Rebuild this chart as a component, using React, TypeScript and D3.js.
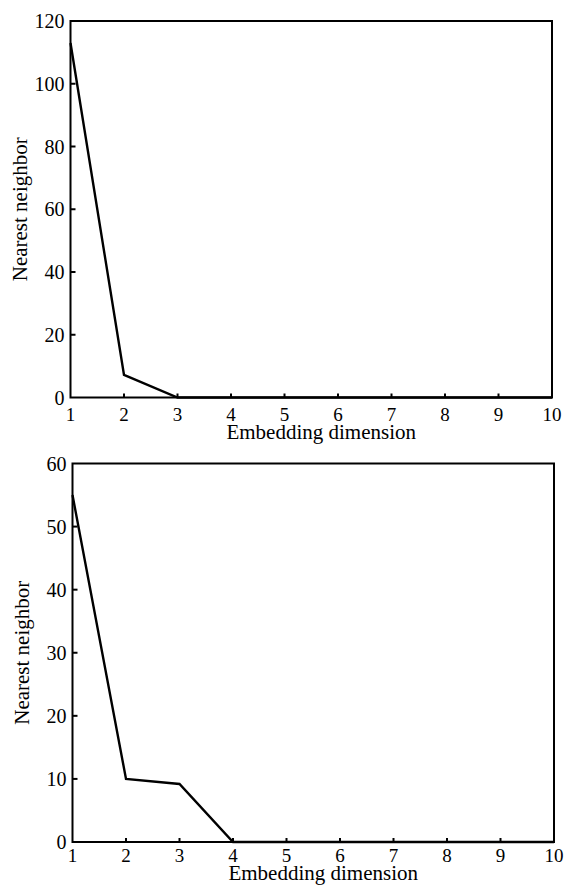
import React, { useEffect, useRef } from "react";
import * as d3 from "d3";

// embedding dimension on the x axis
const dims = [1, 2, 3, 4, 5, 6, 7, 8, 9, 10];
// false nearest neighbour counts, upper panel
const topValues = [113, 7.2, 0, 0, 0, 0, 0, 0, 0, 0];
// lower panel
const bottomValues = [55, 10, 9.2, 0, 0, 0, 0, 0, 0, 0];
const topYTicks = [0, 20, 40, 60, 80, 100, 120];
const bottomYTicks = [0, 10, 20, 30, 40, 50, 60];

const xLabel = "Embedding dimension";
const yLabel = "Nearest neighbor";

function drawPanel(svg, values, yMax, yTicks, box) {
  const g = svg.append("g");
  const x = d3.scaleLinear().domain([1, 10]).range([box.left, box.right]);
  const y = d3.scaleLinear().domain([0, yMax]).range([box.bottom, box.top]);
  const font = "'Liberation Serif', 'Times New Roman', serif";

  // frame
  g.append("rect")
    .attr("x", box.left)
    .attr("y", box.top)
    .attr("width", box.right - box.left)
    .attr("height", box.bottom - box.top)
    .attr("fill", "none")
    .attr("stroke", "#000")
    .attr("stroke-width", 2);

  // inward ticks on bottom axis
  g.selectAll(".xt")
    .data(dims.slice(1, -1))
    .join("line")
    .attr("x1", (d) => x(d))
    .attr("x2", (d) => x(d))
    .attr("y1", box.bottom)
    .attr("y2", box.bottom - 4)
    .attr("stroke", "#000")
    .attr("stroke-width", 2);

  g.selectAll(".xl")
    .data(dims)
    .join("text")
    .attr("x", (d) => x(d))
    .attr("y", box.bottom + box.tickGap)
    .attr("text-anchor", "middle")
    .style("font-family", font)
    .style("font-size", "19px")
    .text((d) => d);

  // inward ticks on left axis
  g.selectAll(".yt")
    .data(yTicks.slice(1, -1))
    .join("line")
    .attr("x1", box.left)
    .attr("x2", box.left + 5)
    .attr("y1", (d) => y(d))
    .attr("y2", (d) => y(d))
    .attr("stroke", "#000")
    .attr("stroke-width", 2);

  g.selectAll(".yl")
    .data(yTicks)
    .join("text")
    .attr("x", box.left - 6)
    .attr("y", (d) => y(d))
    .attr("dy", "0.35em")
    .attr("text-anchor", "end")
    .style("font-family", font)
    .style("font-size", "20px")
    .text((d) => d);

  const line = d3
    .line()
    .x((d, i) => x(dims[i]))
    .y((d) => y(d));

  g.append("path")
    .datum(values)
    .attr("d", line)
    .attr("fill", "none")
    .attr("stroke", "#000")
    .attr("stroke-width", 2.4)
    .attr("stroke-linejoin", "miter");

  g.append("text")
    .attr("x", (box.left + box.right) / 2 + 10)
    .attr("y", box.bottom + box.titleGap)
    .attr("text-anchor", "middle")
    .style("font-family", font)
    .style("font-size", "21px")
    .text(xLabel);

  g.append("text")
    .attr(
      "transform",
      `translate(${box.left - 44}, ${(box.top + box.bottom) / 2}) rotate(-90)`
    )
    .attr("text-anchor", "middle")
    .style("font-family", font)
    .style("font-size", "21px")
    .text(yLabel);
}

export default function App() {
  const ref = useRef(null);

  useEffect(() => {
    const svg = d3.select(ref.current);
    svg.selectAll("*").remove();
    drawPanel(svg, topValues, 120, topYTicks, {
      left: 70.5,
      right: 552,
      top: 21,
      bottom: 397.5,
      tickGap: 23,
      titleGap: 41,
    });
    drawPanel(svg, bottomValues, 60, bottomYTicks, {
      left: 72.5,
      right: 554,
      top: 463.5,
      bottom: 842,
      tickGap: 20,
      titleGap: 38,
    });
  }, []);

  return (
    <svg
      ref={ref}
      width={569}
      height={888}
      style={{ position: "absolute", left: 0, top: 0, background: "#fff" }}
    />
  );
}
